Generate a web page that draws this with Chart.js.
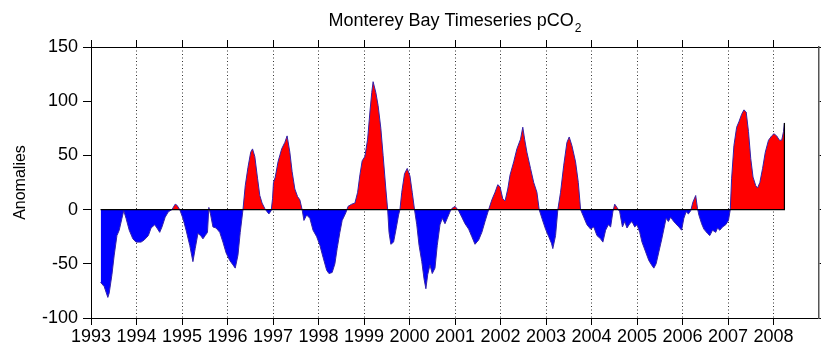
<!DOCTYPE html>
<html>
<head>
<meta charset="utf-8">
<title>Monterey Bay Timeseries pCO2</title>
<script src="https://cdn.jsdelivr.net/npm/chart.js@4.4.1/dist/chart.umd.min.js"></script>
<style>
  html, body { margin: 0; padding: 0; background: #ffffff; }
  canvas { display: block; }
</style>
</head>
<body>
<canvas id="chart" width="821" height="351"></canvas>
<script>
// Sample times (decimal years) and pCO2 anomalies at the Monterey Bay mooring
const years = [
  1993.21, 1993.29, 1993.37, 1993.40, 1993.46, 1993.51, 1993.57, 1993.62, 1993.68, 1993.72,
  1993.77, 1993.84, 1993.92, 1993.99, 1994.10, 1994.17, 1994.26, 1994.32, 1994.40, 1994.45,
  1994.51, 1994.56, 1994.63, 1994.70, 1994.78, 1994.85, 1994.89, 1994.95, 1995.02, 1995.09,
  1995.17, 1995.24, 1995.29, 1995.35, 1995.41, 1995.46, 1995.51, 1995.56, 1995.59, 1995.63,
  1995.68, 1995.75, 1995.83, 1995.90, 1995.97, 1996.05, 1996.12, 1996.17, 1996.23, 1996.28,
  1996.34, 1996.39, 1996.45, 1996.51, 1996.55, 1996.60, 1996.66, 1996.71, 1996.76, 1996.82,
  1996.87, 1996.91, 1996.96, 1996.99, 1997.01, 1997.05, 1997.11, 1997.19, 1997.26, 1997.31,
  1997.37, 1997.42, 1997.48, 1997.54, 1997.59, 1997.64, 1997.68, 1997.74, 1997.81, 1997.88,
  1997.96, 1998.03, 1998.10, 1998.18, 1998.23, 1998.30, 1998.36, 1998.41, 1998.47, 1998.52,
  1998.60, 1998.65, 1998.73, 1998.80, 1998.86, 1998.91, 1998.96, 1999.02, 1999.08, 1999.13,
  1999.17, 1999.20, 1999.26, 1999.31, 1999.37, 1999.42, 1999.48, 1999.52, 1999.55, 1999.59,
  1999.65, 1999.70, 1999.76, 1999.79, 1999.83, 1999.89, 1999.95, 2000.01, 2000.06, 2000.11,
  2000.16, 2000.21, 2000.27, 2000.32, 2000.36, 2000.40, 2000.45, 2000.50, 2000.56, 2000.61,
  2000.67, 2000.72, 2000.78, 2000.84, 2000.89, 2000.93, 2001.00, 2001.08, 2001.15, 2001.22,
  2001.30, 2001.37, 2001.44, 2001.52, 2001.59, 2001.66, 2001.74, 2001.81, 2001.88, 2001.94,
  2001.99, 2002.05, 2002.10, 2002.16, 2002.21, 2002.29, 2002.36, 2002.44, 2002.49, 2002.53,
  2002.58, 2002.66, 2002.73, 2002.80, 2002.85, 2002.91, 2002.99, 2003.06, 2003.12, 2003.15,
  2003.21, 2003.26, 2003.32, 2003.39, 2003.46, 2003.51, 2003.57, 2003.65, 2003.71, 2003.76,
  2003.83, 2003.90, 2003.98, 2004.05, 2004.12, 2004.20, 2004.25, 2004.31, 2004.37, 2004.42,
  2004.47, 2004.51, 2004.56, 2004.62, 2004.68, 2004.73, 2004.78, 2004.84, 2004.89, 2004.95,
  2005.00, 2005.06, 2005.11, 2005.19, 2005.26, 2005.32, 2005.37, 2005.42, 2005.48, 2005.54,
  2005.59, 2005.64, 2005.69, 2005.74, 2005.79, 2005.85, 2005.92, 2005.98, 2006.03, 2006.08,
  2006.13, 2006.18, 2006.23, 2006.29, 2006.33, 2006.36, 2006.42, 2006.47, 2006.55, 2006.60,
  2006.66, 2006.73, 2006.77, 2006.82, 2006.88, 2006.95, 2007.01, 2007.05, 2007.08, 2007.13,
  2007.19, 2007.24, 2007.30, 2007.35, 2007.40, 2007.45, 2007.50, 2007.55, 2007.61, 2007.65,
  2007.70, 2007.76, 2007.82, 2007.89, 2007.96, 2008.01, 2008.07, 2008.13, 2008.18, 2008.22,
  2008.24
];

const anomalies = [
  -67, -71, -81, -77, -60, -42, -24, -19, -8, -1,
  -8, -19, -27, -30, -30, -28, -24, -17, -14, -17,
  -21, -16, -7, -2, 0, 5, 4, 0, -8, -19,
  -33, -48, -36, -22, -24, -27, -24, -21, 2, -5,
  -16, -17, -21, -30, -40, -47, -51, -54, -42, -21,
  0, 22, 39, 53, 56, 49, 29, 13, 6, 1,
  -2, -4, -1, 10, 25, 30, 44, 56, 62, 68,
  53, 35, 19, 12, 9, 0, -10, -5, -8, -19,
  -25, -33, -44, -56, -59, -58, -50, -36, -21, -10,
  -3, 3, 5, 6, 16, 32, 45, 49, 65, 90,
  108, 118, 108, 96, 75, 50, 19, 0, -21, -32,
  -30, -19, -5, 0, 16, 33, 38, 31, 16, 0,
  -14, -33, -48, -64, -73, -60, -51, -59, -54, -33,
  -14, -8, -13, -7, -2, 1, 3, -1, -7, -13,
  -18, -25, -32, -28, -21, -11, 0, 9, 16, 23,
  21, 10, 8, 19, 32, 44, 56, 65, 76, 65,
  53, 38, 25, 16, 0, -8, -18, -25, -31, -36,
  -24, 0, 16, 41, 62, 67, 59, 44, 25, 0,
  -7, -14, -18, -16, -24, -27, -30, -19, -14, -16,
  -2, 5, 2, -2, -16, -11, -17, -13, -11, -16,
  -14, -21, -30, -39, -47, -51, -54, -50, -39, -28,
  -18, -8, -11, -7, -10, -13, -16, -19, -8, -2,
  -4, -1, 7, 13, 1, -5, -13, -18, -22, -24,
  -19, -21, -17, -19, -16, -14, -10, 0, 29, 59,
  76, 81, 88, 92, 90, 72, 47, 30, 22, 20,
  25, 38, 53, 64, 68, 70, 68, 64, 64, 72,
  80
];

// Axis ticks
const yearTicks = [1993, 1994, 1995, 1996, 1997, 1998, 1999, 2000,
                   2001, 2002, 2003, 2004, 2005, 2006, 2007, 2008];
const anomalyTicks = [-100, -50, 0, 50, 100, 150];

const X_MIN = 1993, X_MAX = 2009;
const Y_MIN = -100, Y_MAX = 150;

const FONT_FAMILY = '"Liberation Sans", Arial, Helvetica, sans-serif';

const series = years.map((t, i) => ({ x: t, y: anomalies[i] }));
const last = years.length - 1;
// Zero line under the record, closed at the final sample
const baseline = [
  { x: years[0], y: 0 },
  { x: years[last], y: 0 },
  { x: years[last], y: anomalies[last] }
];

const setTicks = (values) => (scale) => {
  scale.ticks = values.map(v => ({ value: v }));
};

// Title with a subscript "2"
const subscriptTitle = {
  id: 'subscriptTitle',
  afterDraw(chart) {
    const { ctx, chartArea } = chart;
    const main = 'Monterey Bay Timeseries pCO';
    const sub = '2';
    ctx.save();
    ctx.fillStyle = '#000';
    ctx.textBaseline = 'alphabetic';
    ctx.textAlign = 'left';
    ctx.font = '18px ' + FONT_FAMILY;
    const wMain = ctx.measureText(main).width;
    ctx.font = '12px ' + FONT_FAMILY;
    const wSub = ctx.measureText(sub).width;
    const cx = (chartArea.left + chartArea.right) / 2;
    const x0 = cx - (wMain + 1 + wSub) / 2;
    ctx.font = '18px ' + FONT_FAMILY;
    ctx.fillText(main, x0, 26);
    ctx.font = '12px ' + FONT_FAMILY;
    ctx.fillText(sub, x0 + wMain + 1, 32);
    ctx.restore();
  }
};

new Chart(document.getElementById('chart'), {
  type: 'line',
  data: {
    datasets: [
      {
        label: 'zero',
        data: baseline,
        borderColor: '#000000',
        borderWidth: 1.2,
        pointRadius: 0,
        fill: false,
        order: -1
      },
      {
        label: 'pCO2 anomaly',
        data: series,
        borderColor: '#3322aa',
        borderWidth: 1,
        pointRadius: 0,
        tension: 0,
        fill: { target: 'origin', above: '#ff0000', below: '#0000ff' },
        order: 0
      }
    ]
  },
  options: {
    responsive: false,
    animation: false,
    devicePixelRatio: 1,
    layout: { padding: 0 },
    plugins: {
      legend: { display: false },
      title: { display: false },
      tooltip: { enabled: false }
    },
    scales: {
      x: {
        type: 'linear',
        position: 'bottom',
        min: X_MIN,
        max: X_MAX,
        afterBuildTicks: setTicks(yearTicks),
        afterFit: (s) => { s.height = 33; },
        ticks: {
          color: '#000',
          font: { family: FONT_FAMILY, size: 18 },
          padding: 1,
          maxRotation: 0,
          autoSkip: false,
          callback: (v) => String(v)
        },
        grid: {
          color: '#333',
          lineWidth: 1,
          drawTicks: true,
          tickLength: 7,
          tickColor: '#000',
          tickBorderDash: []
        },
        border: { display: true, color: '#000', width: 1, dash: [1, 2.5] }
      },
      xTop: {
        type: 'linear',
        position: 'top',
        min: X_MIN,
        max: X_MAX,
        afterBuildTicks: setTicks(yearTicks),
        afterFit: (s) => { s.height = 47; },
        ticks: { display: false },
        grid: {
          drawOnChartArea: false,
          drawTicks: true,
          tickLength: 7,
          tickColor: '#000'
        },
        border: { display: true, color: '#000', width: 1 }
      },
      y: {
        type: 'linear',
        position: 'left',
        min: Y_MIN,
        max: Y_MAX,
        afterBuildTicks: setTicks(anomalyTicks),
        afterFit: (s) => { s.width = 91; },
        title: {
          display: true,
          text: 'Anomalies',
          color: '#000',
          font: { family: FONT_FAMILY, size: 16 },
          padding: { top: 11, bottom: 0 }
        },
        ticks: {
          color: '#000',
          font: { family: FONT_FAMILY, size: 18 },
          padding: 5
        },
        grid: {
          drawOnChartArea: false,
          drawTicks: true,
          tickLength: 8,
          tickColor: '#000'
        },
        border: { display: true, color: '#000', width: 1 }
      },
      yRight: {
        type: 'linear',
        position: 'right',
        min: Y_MIN,
        max: Y_MAX,
        afterBuildTicks: setTicks(anomalyTicks),
        afterFit: (s) => { s.width = 2; },
        ticks: { display: false },
        grid: {
          drawOnChartArea: false,
          drawTicks: true,
          tickLength: 2,
          tickColor: '#000'
        },
        border: { display: true, color: '#555', width: 1.5 }
      }
    }
  },
  plugins: [subscriptTitle]
});
</script>
</body>
</html>
